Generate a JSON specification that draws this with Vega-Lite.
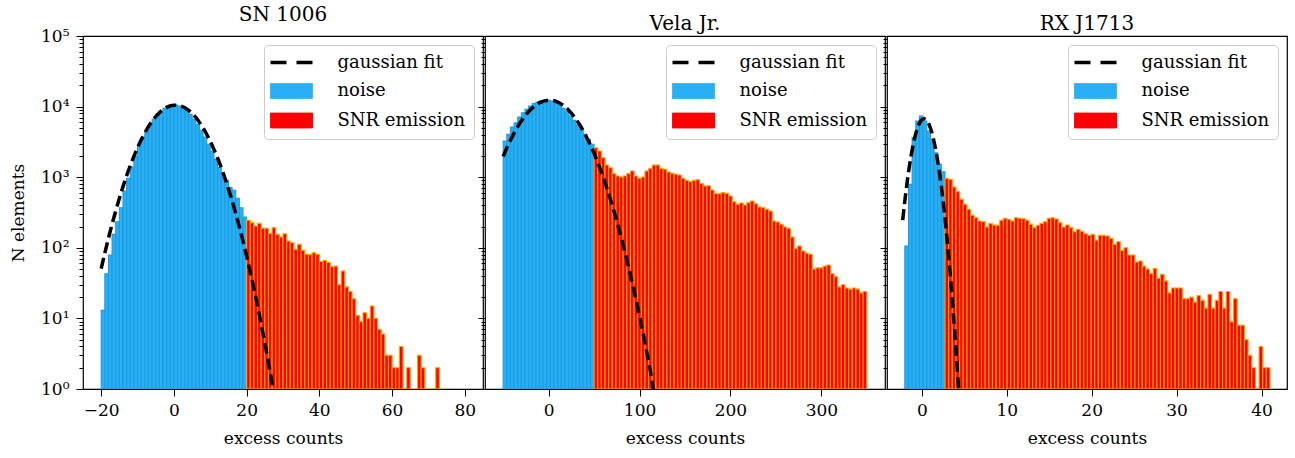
{
  "$schema": "https://vega.github.io/schema/vega-lite/v6.json",
  "background": "white",
  "padding": {"left": 8, "right": 5, "top": 4, "bottom": 5},
  "config": {
    "font": "DejaVu Serif",
    "view": {"stroke": "black", "strokeWidth": 1.2},
    "axis": {"domain": false, "grid": false, "tickColor": "black", "tickWidth": 1, "labelColor": "black", "titleColor": "black", "labelFont": "DejaVu Serif", "titleFont": "DejaVu Serif", "labelFontSize": 17, "titleFontSize": 17, "titleFontWeight": "normal"},
    "title": {"font": "DejaVu Serif", "fontSize": 20, "fontWeight": "normal", "color": "black", "offset": 2, "frame": "group"},
    "legend": {"labelFont": "DejaVu Serif", "labelFontSize": 18, "labelColor": "black", "title": null, "orient": "top-right", "offset": 9, "padding": 8.5, "fillColor": "rgba(255,255,255,0.8)", "strokeColor": "#cccccc", "cornerRadius": 4, "symbolSize": 441, "symbolOffset": 10, "labelOffset": 37, "rowPadding": 9.5}
  },
  "datasets": {
    "p1": [
      {"x0": -20, "x1": -19, "n": 13, "kind": "noise"}, {"x0": -19, "x1": -18, "n": 43, "kind": "noise"}, {"x0": -18, "x1": -17, "n": 79, "kind": "noise"}, {"x0": -17, "x1": -16, "n": 155, "kind": "noise"}, {"x0": -16, "x1": -15, "n": 234, "kind": "noise"}, {"x0": -15, "x1": -14, "n": 370, "kind": "noise"}, {"x0": -14, "x1": -13, "n": 638, "kind": "noise"}, {"x0": -13, "x1": -12, "n": 964, "kind": "noise"}, {"x0": -12, "x1": -11, "n": 1394, "kind": "noise"}, {"x0": -11, "x1": -10, "n": 1995, "kind": "noise"},
      {"x0": -10, "x1": -9, "n": 2767, "kind": "noise"}, {"x0": -9, "x1": -8, "n": 3634, "kind": "noise"}, {"x0": -8, "x1": -7, "n": 4512, "kind": "noise"}, {"x0": -7, "x1": -6, "n": 5611, "kind": "noise"}, {"x0": -6, "x1": -5, "n": 6607, "kind": "noise"}, {"x0": -5, "x1": -4, "n": 7766, "kind": "noise"}, {"x0": -4, "x1": -3, "n": 8664, "kind": "noise"}, {"x0": -3, "x1": -2, "n": 9441, "kind": "noise"}, {"x0": -2, "x1": -1, "n": 10190, "kind": "noise"}, {"x0": -1, "x1": 0, "n": 10540, "kind": "noise"},
      {"x0": 0, "x1": 1, "n": 10540, "kind": "noise"}, {"x0": 1, "x1": 2, "n": 10190, "kind": "noise"}, {"x0": 2, "x1": 3, "n": 9660, "kind": "noise"}, {"x0": 3, "x1": 4, "n": 8860, "kind": "noise"}, {"x0": 4, "x1": 5, "n": 7766, "kind": "noise"}, {"x0": 5, "x1": 6, "n": 6607, "kind": "noise"}, {"x0": 6, "x1": 7, "n": 5611, "kind": "noise"}, {"x0": 7, "x1": 8, "n": 4613, "kind": "noise"}, {"x0": 8, "x1": 9, "n": 3709, "kind": "noise"}, {"x0": 9, "x1": 10, "n": 2924, "kind": "noise"},
      {"x0": 10, "x1": 11, "n": 2300, "kind": "noise"}, {"x0": 11, "x1": 12, "n": 1791, "kind": "noise"}, {"x0": 12, "x1": 13, "n": 1364, "kind": "noise"}, {"x0": 13, "x1": 14, "n": 1099, "kind": "noise"}, {"x0": 14, "x1": 15, "n": 903, "kind": "noise"}, {"x0": 15, "x1": 16, "n": 711, "kind": "noise"}, {"x0": 16, "x1": 17, "n": 652, "kind": "noise"}, {"x0": 17, "x1": 18, "n": 502, "kind": "noise"}, {"x0": 18, "x1": 19, "n": 370, "kind": "noise"}, {"x0": 19, "x1": 20, "n": 273, "kind": "noise"},
      {"x0": 20, "x1": 21, "n": 245, "kind": "SNR emission"}, {"x0": 21, "x1": 22, "n": 227, "kind": "SNR emission"}, {"x0": 22, "x1": 23, "n": 204, "kind": "SNR emission"}, {"x0": 23, "x1": 24, "n": 222, "kind": "SNR emission"}, {"x0": 24, "x1": 25, "n": 189, "kind": "SNR emission"}, {"x0": 25, "x1": 26, "n": 189, "kind": "SNR emission"}, {"x0": 26, "x1": 27, "n": 160, "kind": "SNR emission"}, {"x0": 27, "x1": 28, "n": 193, "kind": "SNR emission"}, {"x0": 28, "x1": 29, "n": 155, "kind": "SNR emission"}, {"x0": 29, "x1": 30, "n": 142, "kind": "SNR emission"},
      {"x0": 30, "x1": 31, "n": 158, "kind": "SNR emission"}, {"x0": 31, "x1": 32, "n": 125, "kind": "SNR emission"}, {"x0": 32, "x1": 33, "n": 118, "kind": "SNR emission"}, {"x0": 33, "x1": 34, "n": 95, "kind": "SNR emission"}, {"x0": 34, "x1": 35, "n": 112, "kind": "SNR emission"}, {"x0": 35, "x1": 36, "n": 92, "kind": "SNR emission"}, {"x0": 36, "x1": 37, "n": 81, "kind": "SNR emission"}, {"x0": 37, "x1": 38, "n": 80, "kind": "SNR emission"}, {"x0": 38, "x1": 39, "n": 85, "kind": "SNR emission"}, {"x0": 39, "x1": 40, "n": 81, "kind": "SNR emission"},
      {"x0": 40, "x1": 41, "n": 64, "kind": "SNR emission"}, {"x0": 41, "x1": 42, "n": 66, "kind": "SNR emission"}, {"x0": 42, "x1": 43, "n": 62, "kind": "SNR emission"}, {"x0": 43, "x1": 44, "n": 54, "kind": "SNR emission"}, {"x0": 44, "x1": 45, "n": 55, "kind": "SNR emission"}, {"x0": 45, "x1": 46, "n": 30, "kind": "SNR emission"}, {"x0": 46, "x1": 47, "n": 47, "kind": "SNR emission"}, {"x0": 47, "x1": 48, "n": 28, "kind": "SNR emission"}, {"x0": 48, "x1": 49, "n": 24, "kind": "SNR emission"}, {"x0": 49, "x1": 50, "n": 19, "kind": "SNR emission"},
      {"x0": 50, "x1": 51, "n": 11, "kind": "SNR emission"}, {"x0": 51, "x1": 52, "n": 9, "kind": "SNR emission"}, {"x0": 52, "x1": 53, "n": 12, "kind": "SNR emission"}, {"x0": 53, "x1": 54, "n": 10, "kind": "SNR emission"}, {"x0": 54, "x1": 55, "n": 15, "kind": "SNR emission"}, {"x0": 55, "x1": 56, "n": 10, "kind": "SNR emission"}, {"x0": 56, "x1": 57, "n": 7, "kind": "SNR emission"}, {"x0": 57, "x1": 58, "n": 6, "kind": "SNR emission"}, {"x0": 58, "x1": 59, "n": 3, "kind": "SNR emission"}, {"x0": 59, "x1": 60, "n": 3, "kind": "SNR emission"},
      {"x0": 60, "x1": 61, "n": 2, "kind": "SNR emission"}, {"x0": 61, "x1": 62, "n": 2, "kind": "SNR emission"}, {"x0": 62, "x1": 63, "n": 4, "kind": "SNR emission"}, {"x0": 63, "x1": 64, "n": 1, "kind": "SNR emission"}, {"x0": 64, "x1": 65, "n": 2, "kind": "SNR emission"}, {"x0": 67, "x1": 68, "n": 3, "kind": "SNR emission"}, {"x0": 68, "x1": 69, "n": 2, "kind": "SNR emission"}, {"x0": 69, "x1": 70, "n": 1, "kind": "SNR emission"}, {"x0": 70, "x1": 71, "n": 1, "kind": "SNR emission"}, {"x0": 71, "x1": 72, "n": 1, "kind": "SNR emission"}, {"x0": 72, "x1": 73, "n": 2, "kind": "SNR emission"}
    ],
    "p1fit": [
      {"x": -20, "n": 50.6}, {"x": -18, "n": 137}, {"x": -16, "n": 333}, {"x": -14, "n": 735}, {"x": -12, "n": 1462}, {"x": -10, "n": 2623}, {"x": -8, "n": 4246}, {"x": -6, "n": 6209}, {"x": -4, "n": 8185}, {"x": -2, "n": 9750}, {"x": 0, "n": 10470}, {"x": 2, "n": 10160}, {"x": 4, "n": 8890}, {"x": 6, "n": 7015}, {"x": 8, "n": 5000}, {"x": 10, "n": 3220}, {"x": 12, "n": 1870}, {"x": 14, "n": 979}, {"x": 16, "n": 463}, {"x": 18, "n": 198}, {"x": 20, "n": 76}, {"x": 22, "n": 26.5}, {"x": 24, "n": 8.3}, {"x": 26, "n": 2.35}, {"x": 27, "n": 1.2}, {"x": 28, "n": 0.5}
    ],
    "p2": [
      {"x0": -50, "x1": -46, "n": 3258, "kind": "noise"}, {"x0": -46, "x1": -42, "n": 4048, "kind": "noise"}, {"x0": -42, "x1": -38, "n": 5140, "kind": "noise"}, {"x0": -38, "x1": -34, "n": 5918, "kind": "noise"}, {"x0": -34, "x1": -30, "n": 7125, "kind": "noise"}, {"x0": -30, "x1": -26, "n": 8200, "kind": "noise"}, {"x0": -26, "x1": -22, "n": 9145, "kind": "noise"}, {"x0": -22, "x1": -18, "n": 10190, "kind": "noise"}, {"x0": -18, "x1": -14, "n": 11010, "kind": "noise"}, {"x0": -14, "x1": -10, "n": 11620, "kind": "noise"},
      {"x0": -10, "x1": -6, "n": 12000, "kind": "noise"}, {"x0": -6, "x1": -2, "n": 12270, "kind": "noise"}, {"x0": -2, "x1": 2, "n": 12270, "kind": "noise"}, {"x0": 2, "x1": 6, "n": 12000, "kind": "noise"}, {"x0": 6, "x1": 10, "n": 11370, "kind": "noise"}, {"x0": 10, "x1": 14, "n": 10540, "kind": "noise"}, {"x0": 14, "x1": 18, "n": 9440, "kind": "noise"}, {"x0": 18, "x1": 22, "n": 8470, "kind": "noise"}, {"x0": 22, "x1": 26, "n": 7360, "kind": "noise"}, {"x0": 26, "x1": 30, "n": 6390, "kind": "noise"},
      {"x0": 30, "x1": 34, "n": 5488, "kind": "noise"}, {"x0": 34, "x1": 38, "n": 4767, "kind": "noise"}, {"x0": 38, "x1": 42, "n": 4048, "kind": "noise"}, {"x0": 42, "x1": 46, "n": 3439, "kind": "noise"}, {"x0": 46, "x1": 50, "n": 2924, "kind": "noise"},
      {"x0": 50, "x1": 54, "n": 2618, "kind": "SNR emission"}, {"x0": 54, "x1": 58, "n": 2350, "kind": "SNR emission"}, {"x0": 58, "x1": 62, "n": 1890, "kind": "SNR emission"}, {"x0": 62, "x1": 66, "n": 1489, "kind": "SNR emission"}, {"x0": 66, "x1": 70, "n": 1364, "kind": "SNR emission"}, {"x0": 70, "x1": 74, "n": 1122, "kind": "SNR emission"}, {"x0": 74, "x1": 78, "n": 1040, "kind": "SNR emission"}, {"x0": 78, "x1": 82, "n": 1007, "kind": "SNR emission"}, {"x0": 82, "x1": 86, "n": 1040, "kind": "SNR emission"}, {"x0": 86, "x1": 90, "n": 1122, "kind": "SNR emission"},
      {"x0": 90, "x1": 94, "n": 1224, "kind": "SNR emission"}, {"x0": 94, "x1": 98, "n": 1040, "kind": "SNR emission"}, {"x0": 98, "x1": 102, "n": 964, "kind": "SNR emission"}, {"x0": 102, "x1": 106, "n": 1007, "kind": "SNR emission"}, {"x0": 106, "x1": 110, "n": 1224, "kind": "SNR emission"}, {"x0": 110, "x1": 114, "n": 1335, "kind": "SNR emission"}, {"x0": 114, "x1": 118, "n": 1489, "kind": "SNR emission"}, {"x0": 118, "x1": 122, "n": 1489, "kind": "SNR emission"}, {"x0": 122, "x1": 126, "n": 1335, "kind": "SNR emission"}, {"x0": 126, "x1": 130, "n": 1293, "kind": "SNR emission"},
      {"x0": 130, "x1": 134, "n": 1185, "kind": "SNR emission"}, {"x0": 134, "x1": 138, "n": 1135, "kind": "SNR emission"}, {"x0": 138, "x1": 142, "n": 1099, "kind": "SNR emission"}, {"x0": 142, "x1": 146, "n": 1074, "kind": "SNR emission"}, {"x0": 146, "x1": 150, "n": 964, "kind": "SNR emission"}, {"x0": 150, "x1": 154, "n": 903, "kind": "SNR emission"}, {"x0": 154, "x1": 158, "n": 864, "kind": "SNR emission"}, {"x0": 158, "x1": 162, "n": 903, "kind": "SNR emission"}, {"x0": 162, "x1": 166, "n": 922, "kind": "SNR emission"}, {"x0": 166, "x1": 170, "n": 810, "kind": "SNR emission"},
      {"x0": 170, "x1": 174, "n": 750, "kind": "SNR emission"}, {"x0": 174, "x1": 178, "n": 758, "kind": "SNR emission"}, {"x0": 178, "x1": 182, "n": 659, "kind": "SNR emission"}, {"x0": 182, "x1": 186, "n": 590, "kind": "SNR emission"}, {"x0": 186, "x1": 190, "n": 585, "kind": "SNR emission"}, {"x0": 190, "x1": 194, "n": 604, "kind": "SNR emission"}, {"x0": 194, "x1": 198, "n": 590, "kind": "SNR emission"}, {"x0": 198, "x1": 202, "n": 542, "kind": "SNR emission"}, {"x0": 202, "x1": 206, "n": 450, "kind": "SNR emission"}, {"x0": 206, "x1": 210, "n": 413, "kind": "SNR emission"},
      {"x0": 210, "x1": 214, "n": 431, "kind": "SNR emission"}, {"x0": 214, "x1": 218, "n": 404, "kind": "SNR emission"}, {"x0": 218, "x1": 222, "n": 436, "kind": "SNR emission"}, {"x0": 222, "x1": 226, "n": 460, "kind": "SNR emission"}, {"x0": 226, "x1": 230, "n": 421, "kind": "SNR emission"}, {"x0": 230, "x1": 234, "n": 378, "kind": "SNR emission"}, {"x0": 234, "x1": 238, "n": 370, "kind": "SNR emission"}, {"x0": 238, "x1": 242, "n": 351, "kind": "SNR emission"}, {"x0": 242, "x1": 246, "n": 332, "kind": "SNR emission"}, {"x0": 246, "x1": 250, "n": 240, "kind": "SNR emission"},
      {"x0": 250, "x1": 254, "n": 232, "kind": "SNR emission"}, {"x0": 254, "x1": 258, "n": 215, "kind": "SNR emission"}, {"x0": 258, "x1": 262, "n": 197, "kind": "SNR emission"}, {"x0": 262, "x1": 266, "n": 189, "kind": "SNR emission"}, {"x0": 266, "x1": 270, "n": 142, "kind": "SNR emission"}, {"x0": 270, "x1": 274, "n": 97, "kind": "SNR emission"}, {"x0": 274, "x1": 278, "n": 106, "kind": "SNR emission"}, {"x0": 278, "x1": 282, "n": 90, "kind": "SNR emission"}, {"x0": 282, "x1": 286, "n": 84, "kind": "SNR emission"}, {"x0": 286, "x1": 290, "n": 81, "kind": "SNR emission"},
      {"x0": 290, "x1": 294, "n": 50, "kind": "SNR emission"}, {"x0": 294, "x1": 298, "n": 52, "kind": "SNR emission"}, {"x0": 298, "x1": 302, "n": 52, "kind": "SNR emission"}, {"x0": 302, "x1": 306, "n": 55, "kind": "SNR emission"}, {"x0": 306, "x1": 310, "n": 57, "kind": "SNR emission"}, {"x0": 310, "x1": 314, "n": 43, "kind": "SNR emission"}, {"x0": 314, "x1": 318, "n": 39, "kind": "SNR emission"}, {"x0": 318, "x1": 322, "n": 28, "kind": "SNR emission"}, {"x0": 322, "x1": 326, "n": 30, "kind": "SNR emission"}, {"x0": 326, "x1": 330, "n": 27, "kind": "SNR emission"},
      {"x0": 330, "x1": 334, "n": 26, "kind": "SNR emission"}, {"x0": 334, "x1": 338, "n": 27, "kind": "SNR emission"}, {"x0": 338, "x1": 342, "n": 26, "kind": "SNR emission"}, {"x0": 342, "x1": 346, "n": 23, "kind": "SNR emission"}, {"x0": 346, "x1": 350, "n": 24, "kind": "SNR emission"}
    ],
    "p2fit": [
      {"x": -50, "n": 1963}, {"x": -44, "n": 2951}, {"x": -38, "n": 4217}, {"x": -32, "n": 5733}, {"x": -26, "n": 7396}, {"x": -20, "n": 9057}, {"x": -14, "n": 10540}, {"x": -8, "n": 11650}, {"x": -2, "n": 12240}, {"x": 4, "n": 12210}, {"x": 10, "n": 11560}, {"x": 16, "n": 10400}, {"x": 22, "n": 8890}, {"x": 28, "n": 7228}, {"x": 34, "n": 5572}, {"x": 40, "n": 4083}, {"x": 46, "n": 2838}, {"x": 52, "n": 1879}, {"x": 58, "n": 1180}, {"x": 64, "n": 703}, {"x": 70, "n": 398}, {"x": 76, "n": 214}, {"x": 82, "n": 110}, {"x": 88, "n": 53}, {"x": 94, "n": 24.5}, {"x": 100, "n": 10.7}, {"x": 106, "n": 4.47}, {"x": 112, "n": 1.77}, {"x": 118, "n": 0.6}
    ],
    "p3": [
      {"x0": -2, "x1": -1.57, "n": 106, "kind": "noise"}, {"x0": -1.57, "x1": -1.14, "n": 793, "kind": "noise"}, {"x0": -1.14, "x1": -0.71, "n": 3630, "kind": "noise"}, {"x0": -0.71, "x1": -0.28, "n": 6250, "kind": "noise"}, {"x0": -0.28, "x1": 0.15, "n": 7360, "kind": "noise"}, {"x0": 0.15, "x1": 0.58, "n": 6250, "kind": "noise"}, {"x0": 0.58, "x1": 1.01, "n": 4510, "kind": "noise"}, {"x0": 1.01, "x1": 1.44, "n": 3440, "kind": "noise"}, {"x0": 1.44, "x1": 1.87, "n": 2225, "kind": "noise"}, {"x0": 1.87, "x1": 2.3, "n": 1522, "kind": "noise"}, {"x0": 2.3, "x1": 2.73, "n": 1197, "kind": "noise"},
      {"x0": 2.73, "x1": 3.16, "n": 964, "kind": "SNR emission"}, {"x0": 3.16, "x1": 3.59, "n": 933, "kind": "SNR emission"}, {"x0": 3.59, "x1": 4.02, "n": 726, "kind": "SNR emission"}, {"x0": 4.02, "x1": 4.45, "n": 624, "kind": "SNR emission"}, {"x0": 4.45, "x1": 4.88, "n": 486, "kind": "SNR emission"}, {"x0": 4.88, "x1": 5.31, "n": 413, "kind": "SNR emission"}, {"x0": 5.31, "x1": 5.74, "n": 351, "kind": "SNR emission"}, {"x0": 5.74, "x1": 6.17, "n": 289, "kind": "SNR emission"}, {"x0": 6.17, "x1": 6.6, "n": 267, "kind": "SNR emission"},
      {"x0": 6.6, "x1": 7.03, "n": 240, "kind": "SNR emission"}, {"x0": 7.03, "x1": 7.46, "n": 235, "kind": "SNR emission"}, {"x0": 7.46, "x1": 7.89, "n": 197, "kind": "SNR emission"}, {"x0": 7.89, "x1": 8.32, "n": 220, "kind": "SNR emission"}, {"x0": 8.32, "x1": 8.75, "n": 210, "kind": "SNR emission"}, {"x0": 8.75, "x1": 9.18, "n": 208, "kind": "SNR emission"}, {"x0": 9.18, "x1": 9.61, "n": 245, "kind": "SNR emission"}, {"x0": 9.61, "x1": 10.04, "n": 261, "kind": "SNR emission"}, {"x0": 10.04, "x1": 10.47, "n": 253, "kind": "SNR emission"}, {"x0": 10.47, "x1": 10.9, "n": 240, "kind": "SNR emission"},
      {"x0": 10.9, "x1": 11.33, "n": 267, "kind": "SNR emission"}, {"x0": 11.33, "x1": 11.76, "n": 261, "kind": "SNR emission"}, {"x0": 11.76, "x1": 12.19, "n": 258, "kind": "SNR emission"}, {"x0": 12.19, "x1": 12.62, "n": 245, "kind": "SNR emission"}, {"x0": 12.62, "x1": 13.05, "n": 215, "kind": "SNR emission"}, {"x0": 13.05, "x1": 13.48, "n": 193, "kind": "SNR emission"}, {"x0": 13.48, "x1": 13.91, "n": 208, "kind": "SNR emission"}, {"x0": 13.91, "x1": 14.34, "n": 222, "kind": "SNR emission"}, {"x0": 14.34, "x1": 14.77, "n": 235, "kind": "SNR emission"}, {"x0": 14.77, "x1": 15.2, "n": 261, "kind": "SNR emission"},
      {"x0": 15.2, "x1": 15.63, "n": 267, "kind": "SNR emission"}, {"x0": 15.63, "x1": 16.06, "n": 256, "kind": "SNR emission"}, {"x0": 16.06, "x1": 16.49, "n": 227, "kind": "SNR emission"}, {"x0": 16.49, "x1": 16.92, "n": 197, "kind": "SNR emission"}, {"x0": 16.92, "x1": 17.35, "n": 210, "kind": "SNR emission"}, {"x0": 17.35, "x1": 17.78, "n": 193, "kind": "SNR emission"}, {"x0": 17.78, "x1": 18.21, "n": 169, "kind": "SNR emission"}, {"x0": 18.21, "x1": 18.64, "n": 183, "kind": "SNR emission"}, {"x0": 18.64, "x1": 19.07, "n": 171, "kind": "SNR emission"}, {"x0": 19.07, "x1": 19.5, "n": 158, "kind": "SNR emission"},
      {"x0": 19.5, "x1": 19.93, "n": 150, "kind": "SNR emission"}, {"x0": 19.93, "x1": 20.36, "n": 155, "kind": "SNR emission"}, {"x0": 20.36, "x1": 20.79, "n": 128, "kind": "SNR emission"}, {"x0": 20.79, "x1": 21.22, "n": 150, "kind": "SNR emission"}, {"x0": 21.22, "x1": 21.65, "n": 150, "kind": "SNR emission"}, {"x0": 21.65, "x1": 22.08, "n": 147, "kind": "SNR emission"}, {"x0": 22.08, "x1": 22.51, "n": 136, "kind": "SNR emission"}, {"x0": 22.51, "x1": 22.94, "n": 112, "kind": "SNR emission"}, {"x0": 22.94, "x1": 23.37, "n": 122, "kind": "SNR emission"}, {"x0": 23.37, "x1": 23.8, "n": 92, "kind": "SNR emission"},
      {"x0": 23.8, "x1": 24.23, "n": 100, "kind": "SNR emission"}, {"x0": 24.23, "x1": 24.66, "n": 79, "kind": "SNR emission"}, {"x0": 24.66, "x1": 25.09, "n": 79, "kind": "SNR emission"}, {"x0": 25.09, "x1": 25.52, "n": 63, "kind": "SNR emission"}, {"x0": 25.52, "x1": 25.95, "n": 65, "kind": "SNR emission"}, {"x0": 25.95, "x1": 26.38, "n": 55, "kind": "SNR emission"}, {"x0": 26.38, "x1": 26.81, "n": 50, "kind": "SNR emission"}, {"x0": 26.81, "x1": 27.24, "n": 43, "kind": "SNR emission"}, {"x0": 27.24, "x1": 27.67, "n": 51, "kind": "SNR emission"}, {"x0": 27.67, "x1": 28.1, "n": 37, "kind": "SNR emission"},
      {"x0": 28.1, "x1": 28.53, "n": 42, "kind": "SNR emission"}, {"x0": 28.53, "x1": 28.96, "n": 34, "kind": "SNR emission"}, {"x0": 28.96, "x1": 29.39, "n": 23, "kind": "SNR emission"}, {"x0": 29.39, "x1": 29.82, "n": 27, "kind": "SNR emission"}, {"x0": 29.82, "x1": 30.25, "n": 27, "kind": "SNR emission"}, {"x0": 30.25, "x1": 30.68, "n": 27, "kind": "SNR emission"}, {"x0": 30.68, "x1": 31.11, "n": 19, "kind": "SNR emission"}, {"x0": 31.11, "x1": 31.54, "n": 19, "kind": "SNR emission"}, {"x0": 31.54, "x1": 31.97, "n": 20, "kind": "SNR emission"}, {"x0": 31.97, "x1": 32.4, "n": 17, "kind": "SNR emission"},
      {"x0": 32.4, "x1": 32.83, "n": 21, "kind": "SNR emission"}, {"x0": 32.83, "x1": 33.26, "n": 18, "kind": "SNR emission"}, {"x0": 33.26, "x1": 33.69, "n": 14, "kind": "SNR emission"}, {"x0": 33.69, "x1": 34.12, "n": 22, "kind": "SNR emission"}, {"x0": 34.12, "x1": 34.55, "n": 14, "kind": "SNR emission"}, {"x0": 34.55, "x1": 34.98, "n": 18, "kind": "SNR emission"}, {"x0": 34.98, "x1": 35.41, "n": 24, "kind": "SNR emission"}, {"x0": 35.41, "x1": 35.84, "n": 14, "kind": "SNR emission"}, {"x0": 35.84, "x1": 36.27, "n": 24, "kind": "SNR emission"}, {"x0": 36.27, "x1": 36.7, "n": 9, "kind": "SNR emission"},
      {"x0": 36.7, "x1": 37.13, "n": 19, "kind": "SNR emission"}, {"x0": 37.13, "x1": 37.56, "n": 8, "kind": "SNR emission"}, {"x0": 37.56, "x1": 37.99, "n": 8, "kind": "SNR emission"}, {"x0": 37.99, "x1": 38.42, "n": 5, "kind": "SNR emission"}, {"x0": 38.42, "x1": 38.85, "n": 3, "kind": "SNR emission"}, {"x0": 38.85, "x1": 39.28, "n": 2, "kind": "SNR emission"}, {"x0": 39.28, "x1": 39.71, "n": 1, "kind": "SNR emission"}, {"x0": 39.71, "x1": 40.14, "n": 4, "kind": "SNR emission"}, {"x0": 40.14, "x1": 40.57, "n": 2, "kind": "SNR emission"}, {"x0": 40.57, "x1": 41.0, "n": 2, "kind": "SNR emission"}
    ],
    "p3fit": [
      {"x": -2.25, "n": 247}, {"x": -1.9, "n": 585}, {"x": -1.6, "n": 1104}, {"x": -1.3, "n": 1893}, {"x": -1.0, "n": 2956}, {"x": -0.7, "n": 4191}, {"x": -0.4, "n": 5406}, {"x": -0.1, "n": 6339}, {"x": 0.2, "n": 6750}, {"x": 0.5, "n": 6542}, {"x": 0.8, "n": 5758}, {"x": 1.1, "n": 4611}, {"x": 1.4, "n": 3357}, {"x": 1.7, "n": 2221}, {"x": 2.0, "n": 1336}, {"x": 2.3, "n": 730}, {"x": 2.6, "n": 363}, {"x": 2.9, "n": 164}, {"x": 3.2, "n": 67.4}, {"x": 3.5, "n": 25.2}, {"x": 3.8, "n": 8.5}, {"x": 4.1, "n": 2.64}, {"x": 4.4, "n": 0.74}
    ]
  },
  "bounds": "flush",
  "spacing": 2,
  "resolve": {"scale": {"color": "independent", "stroke": "independent"}, "legend": {"color": "independent"}},
  "hconcat": [
    {
      "width": 400, "height": 353,
      "title": {"text": "SN 1006"},
      "resolve": {"axis": {"y": "independent"}},
      "layer": [
        {
          "data": {"name": "p1"},
          "mark": {"type": "bar", "clip": true, "strokeWidth": 1.1},
          "encoding": {
            "x": {"field": "x0", "type": "quantitative", "scale": {"domain": [-25, 85], "nice": false, "zero": false}, "axis": {"values": [-20, 0, 20, 40, 60, 80], "title": "excess counts", "tickSize": 7, "labelPadding": 6, "titlePadding": 12}},
            "x2": {"field": "x1"},
            "y": {"field": "n", "type": "quantitative", "scale": {"type": "log", "domain": [1, 100000], "nice": false}, "axis": {"values": [1, 10, 100, 1000, 10000, 100000], "tickSize": 7, "labelPadding": 7, "title": "N elements", "titlePadding": 13, "labelExpr": "datum.value == 1 ? '10⁰' : datum.value == 10 ? '10¹' : datum.value == 100 ? '10²' : datum.value == 1000 ? '10³' : datum.value == 10000 ? '10⁴' : '10⁵'"}},
            "y2": {"datum": 1},
            "color": {"field": "kind", "type": "nominal", "scale": {"domain": ["gaussian fit", "noise", "SNR emission"], "range": ["black", "#29aff5", "#ff0000"]}, "legend": {"encode": {"symbols": {"update": {"shape": {"signal": "datum.value === 'gaussian fit' ? 'M-2,0H2' : 'M-2,-0.71H2V0.71H-2Z'"}, "fill": {"signal": "datum.value === 'gaussian fit' ? 'transparent' : datum.value === 'noise' ? '#29aff5' : '#ff0000'"}, "stroke": {"signal": "datum.value === 'gaussian fit' ? 'black' : datum.value === 'noise' ? '#1c9ce0' : 'orange'"}, "strokeWidth": {"signal": "datum.value === 'gaussian fit' ? 3.5 : 1"}, "strokeDash": {"signal": "datum.value === 'gaussian fit' ? [16, 10] : [1, 0]"}, "opacity": {"value": 1}}}}}},
            "stroke": {"field": "kind", "type": "nominal", "scale": {"domain": ["noise", "SNR emission"], "range": ["#1c9ce0", "orange"]}, "legend": null}
          }
        },
        {
          "data": {"name": "p1fit"},
          "mark": {"type": "line", "clip": true, "strokeWidth": 3.5, "strokeDash": [11, 5], "interpolate": "monotone"},
          "encoding": {
            "x": {"field": "x", "type": "quantitative"},
            "y": {"field": "n", "type": "quantitative", "axis": {"orient": "left", "values": [2,3,4,5,6,7,8,9,20,30,40,50,60,70,80,90,200,300,400,500,600,700,800,900,2000,3000,4000,5000,6000,7000,8000,9000,20000,30000,40000,50000,60000,70000,80000,90000], "labels": false, "tickSize": 4, "title": null}},
            "color": {"datum": "gaussian fit", "type": "nominal"}
          }
        }
      ]
    },
    {
      "width": 400, "height": 353,
      "title": {"text": "Vela Jr."},
      "resolve": {"axis": {"y": "independent"}},
      "layer": [
        {
          "data": {"name": "p2"},
          "mark": {"type": "bar", "clip": true, "strokeWidth": 1.1},
          "encoding": {
            "x": {"field": "x0", "type": "quantitative", "scale": {"domain": [-70, 370], "nice": false, "zero": false}, "axis": {"values": [0, 100, 200, 300], "title": "excess counts", "tickSize": 7, "labelPadding": 6, "titlePadding": 12}},
            "x2": {"field": "x1"},
            "y": {"field": "n", "type": "quantitative", "scale": {"type": "log", "domain": [1, 100000], "nice": false}, "axis": {"values": [1, 10, 100, 1000, 10000, 100000], "tickSize": 7, "labels": false, "title": null}},
            "y2": {"datum": 1},
            "color": {"field": "kind", "type": "nominal", "scale": {"domain": ["gaussian fit", "noise", "SNR emission"], "range": ["black", "#29aff5", "#ff0000"]}, "legend": {"encode": {"symbols": {"update": {"shape": {"signal": "datum.value === 'gaussian fit' ? 'M-2,0H2' : 'M-2,-0.71H2V0.71H-2Z'"}, "fill": {"signal": "datum.value === 'gaussian fit' ? 'transparent' : datum.value === 'noise' ? '#29aff5' : '#ff0000'"}, "stroke": {"signal": "datum.value === 'gaussian fit' ? 'black' : datum.value === 'noise' ? '#1c9ce0' : 'orange'"}, "strokeWidth": {"signal": "datum.value === 'gaussian fit' ? 3.5 : 1"}, "strokeDash": {"signal": "datum.value === 'gaussian fit' ? [16, 10] : [1, 0]"}, "opacity": {"value": 1}}}}}},
            "stroke": {"field": "kind", "type": "nominal", "scale": {"domain": ["noise", "SNR emission"], "range": ["#1c9ce0", "orange"]}, "legend": null}
          }
        },
        {
          "data": {"name": "p2fit"},
          "mark": {"type": "line", "clip": true, "strokeWidth": 3.5, "strokeDash": [11, 5], "interpolate": "monotone"},
          "encoding": {
            "x": {"field": "x", "type": "quantitative"},
            "y": {"field": "n", "type": "quantitative", "axis": {"orient": "left", "values": [2,3,4,5,6,7,8,9,20,30,40,50,60,70,80,90,200,300,400,500,600,700,800,900,2000,3000,4000,5000,6000,7000,8000,9000,20000,30000,40000,50000,60000,70000,80000,90000], "labels": false, "tickSize": 4, "title": null}},
            "color": {"datum": "gaussian fit", "type": "nominal"}
          }
        }
      ]
    },
    {
      "width": 400, "height": 353,
      "title": {"text": "RX J1713"},
      "resolve": {"axis": {"y": "independent"}},
      "layer": [
        {
          "data": {"name": "p3"},
          "mark": {"type": "bar", "clip": true, "strokeWidth": 1.1},
          "encoding": {
            "x": {"field": "x0", "type": "quantitative", "scale": {"domain": [-4.1, 43], "nice": false, "zero": false}, "axis": {"values": [0, 10, 20, 30, 40], "title": "excess counts", "tickSize": 7, "labelPadding": 6, "titlePadding": 12}},
            "x2": {"field": "x1"},
            "y": {"field": "n", "type": "quantitative", "scale": {"type": "log", "domain": [1, 100000], "nice": false}, "axis": {"values": [1, 10, 100, 1000, 10000, 100000], "tickSize": 7, "labels": false, "title": null}},
            "y2": {"datum": 1},
            "color": {"field": "kind", "type": "nominal", "scale": {"domain": ["gaussian fit", "noise", "SNR emission"], "range": ["black", "#29aff5", "#ff0000"]}, "legend": {"encode": {"symbols": {"update": {"shape": {"signal": "datum.value === 'gaussian fit' ? 'M-2,0H2' : 'M-2,-0.71H2V0.71H-2Z'"}, "fill": {"signal": "datum.value === 'gaussian fit' ? 'transparent' : datum.value === 'noise' ? '#29aff5' : '#ff0000'"}, "stroke": {"signal": "datum.value === 'gaussian fit' ? 'black' : datum.value === 'noise' ? '#1c9ce0' : 'orange'"}, "strokeWidth": {"signal": "datum.value === 'gaussian fit' ? 3.5 : 1"}, "strokeDash": {"signal": "datum.value === 'gaussian fit' ? [16, 10] : [1, 0]"}, "opacity": {"value": 1}}}}}},
            "stroke": {"field": "kind", "type": "nominal", "scale": {"domain": ["noise", "SNR emission"], "range": ["#1c9ce0", "orange"]}, "legend": null}
          }
        },
        {
          "data": {"name": "p3fit"},
          "mark": {"type": "line", "clip": true, "strokeWidth": 3.5, "strokeDash": [11, 5], "interpolate": "monotone"},
          "encoding": {
            "x": {"field": "x", "type": "quantitative"},
            "y": {"field": "n", "type": "quantitative", "axis": {"orient": "left", "values": [2,3,4,5,6,7,8,9,20,30,40,50,60,70,80,90,200,300,400,500,600,700,800,900,2000,3000,4000,5000,6000,7000,8000,9000,20000,30000,40000,50000,60000,70000,80000,90000], "labels": false, "tickSize": 4, "title": null}},
            "color": {"datum": "gaussian fit", "type": "nominal"}
          }
        }
      ]
    }
  ]
}
